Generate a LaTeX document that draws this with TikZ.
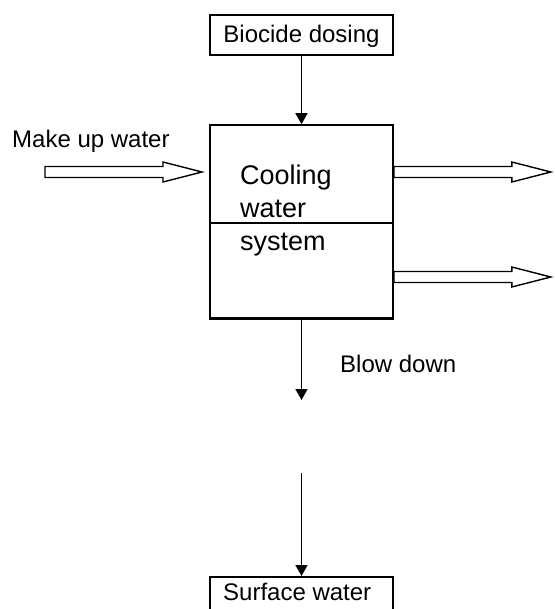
\documentclass[tikz,border=0pt]{standalone}
\usepackage{fontspec}
\setmainfont{Liberation Sans}
\usetikzlibrary{arrows.meta}
\tikzset{
  box/.style={draw, line width=1.6pt, rectangle, inner sep=0pt, minimum width=183pt},
  lbl/.style={inner sep=0pt, font=\fontsize{24}{28}\selectfont},
  flow/.style={line width=1.6pt, -{Triangle[width=12pt,length=11pt]}},
  blockarr/.style={draw, line width=1.4pt, fill=white, line join=miter}
}
\newcommand\blockarrowat[1]{%
  \draw[blockarr] (#1) ++(0,-5.5) -- ++(118,0) -- ++(0,-4.5) -- ++(39,10) -- ++(-39,10) -- ++(0,-4.5) -- ++(-118,0) -- cycle;}
\begin{document}
\begin{tikzpicture}[x=1pt,y=-1pt]
\useasboundingbox (0,0) rectangle (554,609);
% boxes
\node[box, minimum height=40pt] (bio) at (301.5,35) {};
\node[lbl, anchor=base] (biot) at (301.5,43) {Biocide dosing};
\node[box, minimum height=193pt] (cws) at (301.5,221.5) {};
\draw[line width=1.6pt] (cws.west |- 0,223) -- (cws.east |- 0,223);
\draw[line width=2.4pt] (cws.south west) -- (cws.south east);
\node[inner sep=0pt, anchor=base west, align=left, font=\fontsize{27}{33}\selectfont] (cwst) at (240,251) {Cooling\\water\\system};
\node[box, minimum height=60pt, anchor=north] (surf) at (301.5,576) {};
\node[lbl, anchor=base west] (surft) at (223,600) {Surface water};
% labels
\node[lbl, anchor=base west] (mut) at (12,148) {Make up water};
\node[lbl, anchor=base west] (bdt) at (340,372) {Blow down};
% line arrows
\draw[flow] (bio.south) -- (cws.north);
\coordinate (bdend) at (301.5,400);
\draw[flow] (cws.south) -- (bdend);
\coordinate (swstart) at (301.5,473);
\draw[flow] (swstart) -- (surf.north);
% block arrows
\coordinate (mu) at (45,172);
\coordinate (out1) at (cws.east |- 0,172);
\coordinate (out2) at (cws.east |- 0,277);
\blockarrowat{mu}
\blockarrowat{out1}
\blockarrowat{out2}
\end{tikzpicture}
\end{document}
